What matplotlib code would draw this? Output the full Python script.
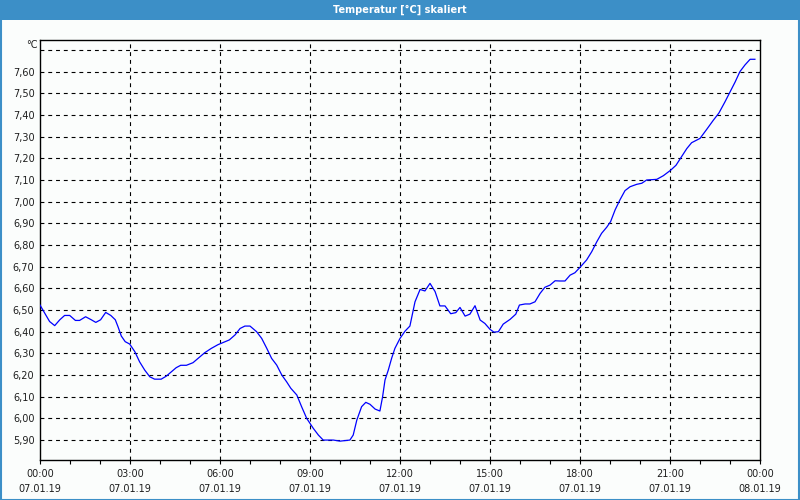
import matplotlib
matplotlib.use("Agg")
import matplotlib.pyplot as plt
from matplotlib.patches import Rectangle

# hours since 07.01.19 00:00 and temperature in °C
hours = [0.00, 0.16, 0.32, 0.49, 0.66, 0.82, 0.99, 1.18, 1.32, 1.52, 1.71, 1.86,
         2.02, 2.19, 2.36, 2.51, 2.60, 2.71, 2.84, 2.99, 3.16, 3.32, 3.49, 3.66,
         3.82, 4.04, 4.21, 4.38, 4.54, 4.69, 4.88, 5.10, 5.27, 5.49, 5.71, 5.93,
         6.14, 6.31, 6.50, 6.67, 6.83, 7.00, 7.22, 7.39, 7.56, 7.72, 7.89, 8.06,
         8.22, 8.36, 8.56, 8.72, 8.89, 9.11, 9.28, 9.44, 9.78, 10.00, 10.33, 10.44,
         10.56, 10.72, 10.86, 11.00, 11.17, 11.33, 11.42, 11.50, 11.61, 11.72, 11.83, 12.00,
         12.17, 12.33, 12.42, 12.50, 12.67, 12.83, 13.00, 13.17, 13.33, 13.50, 13.69, 13.86,
         14.00, 14.17, 14.33, 14.50, 14.67, 14.83, 15.00, 15.13, 15.28, 15.44, 15.67, 15.86,
         15.98, 16.17, 16.33, 16.50, 16.67, 16.83, 17.00, 17.17, 17.33, 17.50, 17.67, 17.83,
         18.02, 18.22, 18.39, 18.56, 18.72, 18.89, 19.02, 19.17, 19.33, 19.50, 19.67, 19.89,
         20.06, 20.22, 20.56, 20.78, 21.02, 21.20, 21.39, 21.56, 21.72, 22.00, 22.22, 22.44,
         22.63, 22.83, 23.00, 23.17, 23.33, 23.50, 23.67, 23.83]
temps = [6.523, 6.485, 6.447, 6.428, 6.455, 6.475, 6.475, 6.452, 6.452, 6.469, 6.455, 6.443,
         6.455, 6.489, 6.475, 6.455, 6.423, 6.380, 6.354, 6.343, 6.308, 6.261, 6.223, 6.192,
         6.181, 6.181, 6.195, 6.215, 6.234, 6.245, 6.245, 6.257, 6.277, 6.303, 6.323, 6.340,
         6.352, 6.362, 6.385, 6.415, 6.426, 6.426, 6.400, 6.369, 6.323, 6.277, 6.246, 6.200,
         6.169, 6.139, 6.108, 6.054, 6.000, 5.954, 5.923, 5.900, 5.900, 5.895, 5.900, 5.923,
         5.992, 6.054, 6.074, 6.065, 6.043, 6.034, 6.100, 6.177, 6.223, 6.277, 6.323, 6.369,
         6.403, 6.426, 6.485, 6.538, 6.595, 6.588, 6.623, 6.585, 6.519, 6.519, 6.483, 6.488,
         6.512, 6.472, 6.481, 6.520, 6.454, 6.438, 6.411, 6.398, 6.400, 6.435, 6.457, 6.481,
         6.523, 6.528, 6.528, 6.538, 6.577, 6.605, 6.615, 6.635, 6.634, 6.634, 6.661, 6.672,
         6.700, 6.731, 6.769, 6.815, 6.854, 6.882, 6.908, 6.962, 7.008, 7.051, 7.069, 7.080,
         7.085, 7.100, 7.103, 7.120, 7.145, 7.168, 7.209, 7.245, 7.272, 7.292, 7.333, 7.375,
         7.409, 7.460, 7.506, 7.552, 7.600, 7.631, 7.657, 7.657]

tick_hours = [0, 3, 6, 9, 12, 15, 18, 21, 24]
tick_times = ["00:00", "03:00", "06:00", "09:00", "12:00", "15:00", "18:00", "21:00", "00:00"]
tick_dates = ["07.01.19"] * 8 + ["08.01.19"]
y_ticks = [5.9 + 0.1 * i for i in range(18)]   # 5,90 ... 7,60
y_grid = [5.9 + 0.1 * i for i in range(19)]    # grid goes up to 7,70

bg = "#FBFDFC"
bar_blue = "#3C8FC7"
txt = "#1E1E1E"

fig = plt.figure(figsize=(8, 5), dpi=100, facecolor=bg)
ax = fig.add_axes([0.05, 0.08, 0.90, 0.84])
ax.set_facecolor(bg)

# grid
for v in y_grid:
    ax.axhline(v, color="black", lw=0.8, dashes=(3.5, 3.5), zorder=1)
for h in tick_hours[1:-1]:
    ax.axvline(h, color="black", lw=0.8, dashes=(3.5, 3.5), zorder=1)

ax.plot(hours, temps, color="#0000FF", lw=0.9, zorder=3)

ax.set_xlim(0, 24)
ax.set_ylim(5.808, 7.746)

ax.set_xticks(tick_hours)
ax.set_xticklabels([t + "\n" + d for t, d in zip(tick_times, tick_dates)],
                   fontsize=7, color=txt, linespacing=1.6)
ax.set_xticks(range(25), minor=True)
ax.tick_params(axis="x", which="both", direction="out", length=3, width=0.8, pad=3.5)

ax.set_yticks(y_ticks)
ax.set_yticklabels([f"{v:.2f}".replace(".", ",") for v in y_ticks], fontsize=7, color=txt)
ax.tick_params(axis="y", length=0, pad=4)

for s in ax.spines.values():
    s.set_color("black")
    s.set_linewidth(1.0)

fig.text(38 / 800, 1 - 45 / 500, "°C", fontsize=7, color=txt, ha="right", va="center")

# title bar and window border
fig.patches.append(Rectangle((0, 1 - 20 / 500), 1, 20 / 500, transform=fig.transFigure,
                             facecolor=bar_blue, edgecolor="none", zorder=0))
fig.patches.append(Rectangle((0.5 / 800, 0.5 / 500), 798.5 / 800, 499 / 500, transform=fig.transFigure,
                             facecolor="none", edgecolor=bar_blue, lw=1.5, zorder=5))
fig.text(0.5, 1 - 10 / 500, "Temperatur [°C] skaliert", fontsize=7, color="white",
         fontweight="bold", ha="center", va="center")

fig.savefig("out.png", dpi=100, facecolor=bg)
